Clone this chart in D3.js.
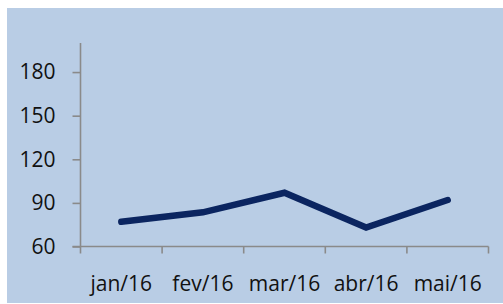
<!DOCTYPE html>
<html>
<head>
<meta charset="utf-8">
<script src="https://cdn.jsdelivr.net/npm/d3@7"></script>
<style>
  body { margin: 0; background: #fff; }
  svg text { font-family: "Open Sans", sans-serif; fill: #111; }
</style>
</head>
<body>
<svg width="503" height="304"></svg>
<script>
const width = 503;
const height = 304;

// dados
const months = ["jan/16", "fev/16", "mar/16", "abr/16", "mai/16"];
const values = [77, 83.5, 97, 73, 92];
const yTicks = [60, 90, 120, 150, 180];

const svg = d3.select("svg");

// fundo azul claro
svg.append("rect")
    .attr("x", 7).attr("y", 8)
    .attr("width", width - 7).attr("height", height - 9)
    .attr("fill", "#b9cde5");

const x = d3.scaleBand()
    .domain(months)
    .range([80.5, 488.5]);

const y = d3.scaleLinear()
    .domain([60, 200])
    .range([246.5, 43]);

// eixo y
const yAxis = svg.append("g")
    .attr("transform", "translate(80.5,0)")
    .call(d3.axisLeft(y).tickValues(yTicks).tickSize(8).tickPadding(17));

// eixo x
const xAxis = svg.append("g")
    .attr("transform", "translate(0,246.5)")
    .call(d3.axisBottom(x).tickSize(0).tickPadding(30));

// marcas de separação entre categorias
xAxis.selectAll("line.sep")
    .data(months.map(m => x(m)).concat([x.range()[1]]))
    .enter()
    .append("line")
    .attr("class", "sep")
    .attr("x1", d => d).attr("x2", d => d)
    .attr("y1", 0).attr("y2", 7);

[yAxis, xAxis].forEach(a => {
    a.selectAll("path.domain, line").attr("stroke", "#8a8a8a").attr("stroke-width", 1.6);
    a.selectAll("text").style("font-size", "21px").attr("fill", "#111");
});
yAxis.select("path.domain").attr("d", "M0," + y.range()[1] + "V" + y.range()[0]);
xAxis.select("path.domain").attr("d", "M" + (x.range()[0] - 8) + ",0H" + x.range()[1]);

// linha da série
const line = d3.line()
    .x((d, i) => x(months[i]) + x.bandwidth() / 2)
    .y(d => y(d));

svg.append("path")
    .datum(values)
    .attr("fill", "none")
    .attr("stroke", "#0b2560")
    .attr("stroke-width", 6.5)
    .attr("stroke-linecap", "round")
    .attr("d", line);
</script>
</body>
</html>
